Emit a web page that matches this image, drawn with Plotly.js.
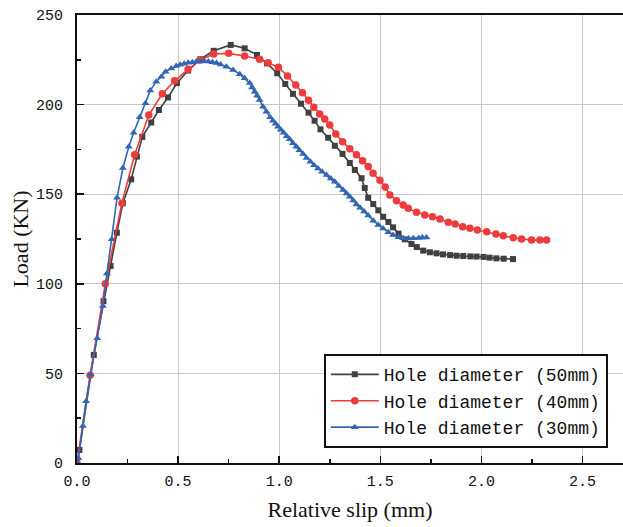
<!DOCTYPE html>
<html>
<head>
<meta charset="utf-8">
<script src="https://cdn.plot.ly/plotly-3.0.1.min.js"></script>
<style>html,body{margin:0;padding:0;background:#fff;}#chart{width:623px;height:527px;}</style>
</head>
<body>
<div id="chart"></div>
<script>
// Hole diameter 50mm
const slip50 = [0,0.012,0.083,0.131,0.166,0.197,0.227,0.268,0.296,0.323,0.367,0.405,0.45,0.494,0.549,0.61,0.676,0.76,0.829,0.89,0.94,0.99,1.03,1.068,1.108,1.145,1.175,1.204,1.242,1.275,1.313,1.349,1.374,1.407,1.423,1.44,1.465,1.49,1.514,1.54,1.563,1.59,1.621,1.654,1.68,1.712,1.745,1.778,1.81,1.845,1.877,1.91,1.945,1.976,2.01,2.04,2.074,2.11,2.156];
const load50 = [0,7.3,60.3,90.3,110,128.5,145,158.3,171,182,190,197,204,212,219,225.3,230,233.3,231.4,227.7,223,217.5,211.5,206,200.5,195.5,191,186.2,181.5,177,172.5,167.4,163.5,158.9,153.5,148,144.5,141,137.4,134.5,131.5,128,124.8,122.2,120.5,118.5,117.6,117,116.4,116,115.7,115.5,115.3,115.2,115,114.6,114.2,114,113.8];

// Hole diameter 40mm
const slip40 = [0,0.065,0.14,0.222,0.285,0.355,0.422,0.483,0.549,0.61,0.676,0.75,0.829,0.903,0.945,0.996,1.041,1.082,1.115,1.145,1.171,1.2,1.225,1.25,1.28,1.313,1.349,1.382,1.412,1.44,1.464,1.498,1.524,1.547,1.58,1.613,1.638,1.679,1.72,1.758,1.795,1.836,1.87,1.907,1.943,1.98,2.026,2.072,2.108,2.157,2.198,2.248,2.289,2.322];
const load40 = [0,49,100,145,172,194.2,206,213.3,219.7,224.9,228.2,228.6,227.1,225.3,223.4,220.8,216,211,206.6,202.4,198.5,194.8,192,188.6,183.6,179.3,175.3,172,168.7,165.4,161.7,157.8,154,149.6,146.4,144,142.1,139.9,138.4,137.4,136.2,134.3,133.4,131.9,131,130,129.1,127.8,126.8,125.7,125,124.4,124.4,124.4];

// Hole diameter 30mm
const slip30 = [0,0.007,0.029,0.045,0.067,0.1,0.128,0.148,0.172,0.198,0.227,0.256,0.28,0.31,0.339,0.362,0.392,0.417,0.438,0.466,0.491,0.51,0.53,0.55,0.57,0.59,0.61,0.63,0.65,0.67,0.69,0.71,0.739,0.772,0.805,0.829,0.854,0.866,0.879,0.891,0.903,0.92,0.937,0.955,0.969,0.982,0.994,1.008,1.022,1.037,1.052,1.068,1.085,1.1,1.118,1.135,1.154,1.172,1.192,1.212,1.234,1.255,1.275,1.295,1.316,1.333,1.349,1.366,1.382,1.4,1.42,1.44,1.465,1.49,1.514,1.54,1.563,1.59,1.613,1.64,1.663,1.69,1.708,1.728];
const load30 = [0,2.6,20.6,34.5,49.5,69.6,87.6,105.7,124.8,148,164.6,176.5,184.3,192.9,200.7,207.8,212.8,215.6,218.4,220.2,221.5,222.2,222.8,223.3,223.7,224,224.1,224.2,224,223.6,223.2,222.4,221.1,219.3,217,214.7,212,209.5,207.2,205,202.6,198.8,196,193,191,189.3,187.7,186,184.3,182.4,180.6,178.5,176.5,174.5,172.4,170.2,168.1,166.2,164.4,162.5,160.7,158.8,157,154.6,152.3,150.4,148.6,146.5,144.3,142.4,140.3,138.1,135.2,132.8,130.8,128.7,127.2,126,125.4,125.3,125.4,125.6,125.8,125.9];

const names = ['Hole diameter (50mm)','Hole diameter (40mm)','Hole diameter (30mm)'];

const traces = [
  {x: slip50, y: load50, name: names[0], type: 'scatter', mode: 'lines+markers',
   line: {color: '#404040', width: 1.6}, marker: {symbol: 'square', size: 6, color: '#404040'}},
  {x: slip40, y: load40, name: names[1], type: 'scatter', mode: 'lines+markers',
   line: {color: '#ee3b3b', width: 1.6}, marker: {symbol: 'circle', size: 7.5, color: '#ee3b3b'}},
  {x: slip30, y: load30, name: names[2], type: 'scatter', mode: 'lines+markers',
   line: {color: '#3465b5', width: 1.6}, marker: {symbol: 'triangle-up', size: 7, color: '#3465b5'}}
];

const tickFont = {family: 'Liberation Mono, monospace', size: 15, color: '#111'};
const titleFont = {family: 'Liberation Serif, Times New Roman, serif', size: 22, color: '#111'};

const layout = {
  width: 623, height: 527,
  margin: {l: 77, r: 0, t: 15, b: 64},
  paper_bgcolor: '#fff', plot_bgcolor: '#fff',
  showlegend: true,
  xaxis: {
    range: [0, 2.7], dtick: 0.5, tick0: 0, tickformat: '.1f',
    showgrid: true, gridcolor: '#c8c8c8', gridwidth: 1,
    zeroline: false, showline: true, linecolor: '#111', linewidth: 2, mirror: true,
    ticks: 'inside', ticklen: 7, tickwidth: 1.5, tickcolor: '#111',
    minor: {dtick: 0.25, ticks: 'inside', ticklen: 4, tickwidth: 1.5, tickcolor: '#111', showgrid: false},
    tickfont: tickFont, ticklabelstandoff: 3,
    title: {text: 'Relative slip (mm)', font: titleFont, standoff: 12}
  },
  yaxis: {
    range: [0, 250], dtick: 50, tick0: 0,
    showgrid: true, gridcolor: '#c8c8c8', gridwidth: 1,
    zeroline: false, showline: true, linecolor: '#111', linewidth: 2, mirror: false,
    ticks: 'inside', ticklen: 7, tickwidth: 1.5, tickcolor: '#111',
    minor: {dtick: 25, ticks: 'inside', ticklen: 4, tickwidth: 1.5, tickcolor: '#111', showgrid: false},
    tickfont: tickFont, ticklabelstandoff: 9,
    title: {text: 'Load (KN)', font: titleFont, standoff: 1}
  },
  legend: {
    x: 0.452, y: 0.243, xanchor: 'left', yanchor: 'top',
    bgcolor: '#fff', bordercolor: '#111', borderwidth: 2,
    font: {family: 'Liberation Mono, monospace', size: 18, color: '#111'},
    itemwidth: 48,
    tracegroupgap: 0
  }
};

Plotly.newPlot('chart', traces, layout, {displayModeBar: false, staticPlot: true});
</script>
</body>
</html>
